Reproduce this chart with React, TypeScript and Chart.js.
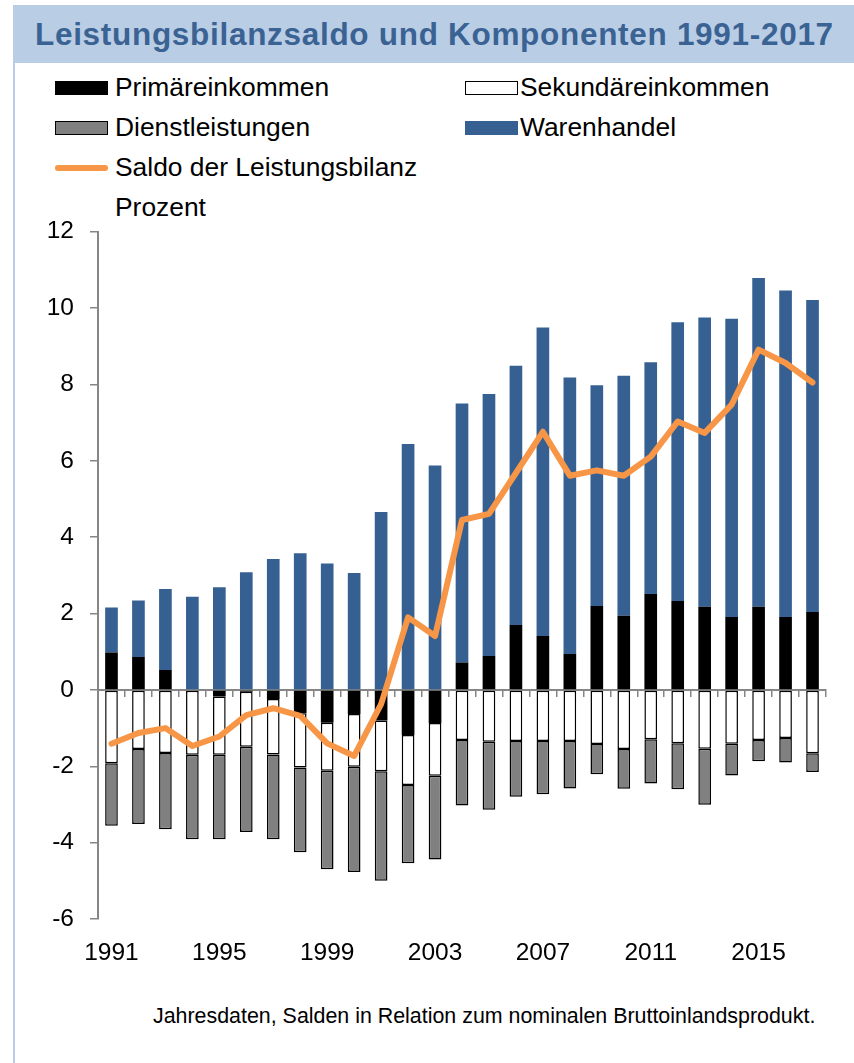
import React, { useEffect, useRef } from "react";
import { Chart, registerables } from "chart.js";

Chart.register(...registerables);

const years = [
  "1991", "1992", "1993", "1994", "1995", "1996", "1997", "1998", "1999",
  "2000", "2001", "2002", "2003", "2004", "2005", "2006", "2007", "2008",
  "2009", "2010", "2011", "2012", "2013", "2014", "2015", "2016", "2017",
];

const primaer = [0.98, 0.86, 0.52, 0.0, -0.17, -0.05, -0.24, -0.61, -0.86, -0.63, -0.8, -1.18, -0.87, 0.72, 0.89, 1.7, 1.41, 0.94, 2.2, 1.94, 2.51, 2.33, 2.18, 1.91, 2.18, 1.91, 2.04];
const sekundaer = [-1.92, -1.55, -1.65, -1.7, -1.53, -1.44, -1.45, -1.42, -1.26, -1.38, -1.33, -1.31, -1.38, -1.31, -1.36, -1.34, -1.34, -1.34, -1.42, -1.55, -1.29, -1.4, -1.54, -1.41, -1.31, -1.26, -1.66];
const dienstleistungen = [-1.64, -1.96, -2.0, -2.21, -2.21, -2.23, -2.22, -2.22, -2.58, -2.76, -2.87, -2.05, -2.19, -1.72, -1.78, -1.46, -1.39, -1.24, -0.79, -1.04, -1.16, -1.2, -1.47, -0.83, -0.56, -0.64, -0.49];
const warenhandel = [1.18, 1.48, 2.12, 2.44, 2.69, 3.08, 3.43, 3.58, 3.31, 3.06, 4.66, 6.44, 5.88, 6.78, 6.86, 6.79, 8.08, 7.24, 5.78, 6.29, 6.07, 7.3, 7.57, 7.81, 8.61, 8.55, 8.17];
const saldo = [-1.41, -1.13, -1.0, -1.47, -1.22, -0.66, -0.48, -0.68, -1.4, -1.73, -0.37, 1.9, 1.41, 4.45, 4.61, 5.68, 6.76, 5.61, 5.75, 5.61, 6.11, 7.03, 6.73, 7.47, 8.91, 8.56, 8.05];

const yTicks = { min: -6, max: 12, step: 2 };

const FONT = "'Liberation Sans', Arial, Helvetica, sans-serif";
const BLUE = "#376092";
const ORANGE = "#f79646";
const GRAY = "#808080";
const AXIS = "#868686";

function Swatch({ x, y, fill, border }: { x: number; y: number; fill: string; border?: boolean }) {
  return (
    <div
      style={{
        position: "absolute",
        left: x,
        top: y - 7,
        width: 53,
        height: 14,
        boxSizing: "border-box",
        background: fill,
        border: border ? "1.5px solid #000" : "none",
      }}
    />
  );
}

function Label({ x, y, text, size = 26.4 }: { x: number; y: number; text: string; size?: number }) {
  return (
    <div
      style={{
        position: "absolute",
        left: x,
        top: y - size / 2,
        fontFamily: FONT,
        fontSize: size,
        lineHeight: `${size}px`,
        color: "#000",
        whiteSpace: "nowrap",
      }}
    >
      {text}
    </div>
  );
}

export default function App() {
  const ref = useRef<HTMLCanvasElement>(null);

  useEffect(() => {
    const canvas = ref.current;
    if (!canvas) return;
    const chart = new Chart(canvas, {
      type: "bar",
      data: {
        labels: years,
        datasets: [
          { label: "Primäreinkommen", data: primaer, backgroundColor: "#000000", borderWidth: 0, stack: "s", order: 1 },
          { label: "Sekundäreinkommen", data: sekundaer, backgroundColor: "#ffffff", borderColor: "#000000", borderWidth: 1.5, borderSkipped: false, stack: "s", order: 1 },
          { label: "Dienstleistungen", data: dienstleistungen, backgroundColor: GRAY, borderColor: "#000000", borderWidth: 1.5, borderSkipped: false, stack: "s", order: 1 },
          { label: "Warenhandel", data: warenhandel, backgroundColor: BLUE, borderWidth: 0, stack: "s", order: 1 },
          {
            type: "line",
            label: "Saldo der Leistungsbilanz",
            data: saldo,
            borderColor: ORANGE,
            backgroundColor: ORANGE,
            borderWidth: 6,
            pointRadius: 0,
            tension: 0,
            fill: false,
            stack: "saldo",
            order: 0,
            borderJoinStyle: "round",
            borderCapStyle: "round",
          } as any,
        ],
      },
      options: {
        responsive: false,
        animation: false,
        devicePixelRatio: 1,
        layout: { padding: { top: 31.7, right: 28, left: 0, bottom: 0 } },
        plugins: { legend: { display: false }, tooltip: { enabled: false }, title: { display: false } },
        datasets: { bar: { barPercentage: 0.47, categoryPercentage: 1 } },
        scales: {
          x: {
            type: "category",
            position: { y: 0 } as any,
            offset: true,
            grid: { display: true, offset: true, drawOnChartArea: false, drawTicks: true, tickLength: 6, color: AXIS, lineWidth: 1.5 },
            border: { display: true, color: AXIS, width: 2 },
            ticks: { display: false },
          },
          x2: {
            type: "category",
            position: "bottom",
            offset: true,
            labels: years,
            grid: { display: false },
            border: { display: false },
            ticks: {
              autoSkip: false,
              maxRotation: 0,
              minRotation: 0,
              padding: 12,
              color: "#000",
              font: { family: FONT, size: 24.5 },
              callback: (_v: any, i: number) => (i % 4 === 0 ? years[i] : ""),
            },
            afterFit: (s: any) => {
              s.height = 60;
            },
          } as any,
          y: {
            stacked: true,
            min: yTicks.min,
            max: yTicks.max,
            ticks: { stepSize: yTicks.step, padding: 16, color: "#000", font: { family: FONT, size: 24.5 } },
            grid: { display: true, drawOnChartArea: false, drawTicks: true, tickLength: 8, color: AXIS, lineWidth: 1.5 },
            border: { display: true, color: AXIS, width: 2 },
            afterFit: (s: any) => {
              s.width = 98;
            },
          },
        },
      },
    });
    return () => chart.destroy();
  }, []);

  return (
    <div style={{ position: "absolute", left: 0, top: 0, width: 854, height: 1063, background: "#fff", overflow: "hidden" }}>
      <div style={{ position: "absolute", left: 13, top: 5, width: 841, height: 58, background: "#b9cde5" }} />
      <div style={{ position: "absolute", left: 13, top: 63, width: 2, height: 1000, background: "#b9cde5" }} />
      <div
        style={{
          position: "absolute",
          left: 35,
          top: 18,
          fontFamily: FONT,
          fontWeight: "bold",
          fontSize: 31.5,
          lineHeight: "32px",
          color: "#3a6293",
          whiteSpace: "nowrap",
          letterSpacing: 0.7,
        }}
      >
        Leistungsbilanzsaldo und Komponenten 1991-2017
      </div>

      <Swatch x={55} y={87.5} fill="#000" />
      <Label x={115} y={87.5} text="Primäreinkommen" />
      <Swatch x={465} y={87.5} fill="#fff" border />
      <Label x={520} y={87.5} text="Sekundäreinkommen" />
      <Swatch x={55} y={127.5} fill={GRAY} border />
      <Label x={115} y={127.5} text="Dienstleistungen" />
      <Swatch x={465} y={127.5} fill={BLUE} />
      <Label x={520} y={127.5} text="Warenhandel" />
      <div style={{ position: "absolute", left: 55, top: 164.5, width: 53, height: 6, borderRadius: 3, background: ORANGE }} />
      <Label x={115} y={167.5} text="Saldo der Leistungsbilanz" />
      <Label x={115} y={207.5} text="Prozent" />

      <canvas ref={ref} width={854} height={779} style={{ position: "absolute", left: 0, top: 200, display: "block" }} />

      <Label x={153} y={1017} size={21.4} text="Jahresdaten, Salden in Relation zum nominalen Bruttoinlandsprodukt." />
    </div>
  );
}
